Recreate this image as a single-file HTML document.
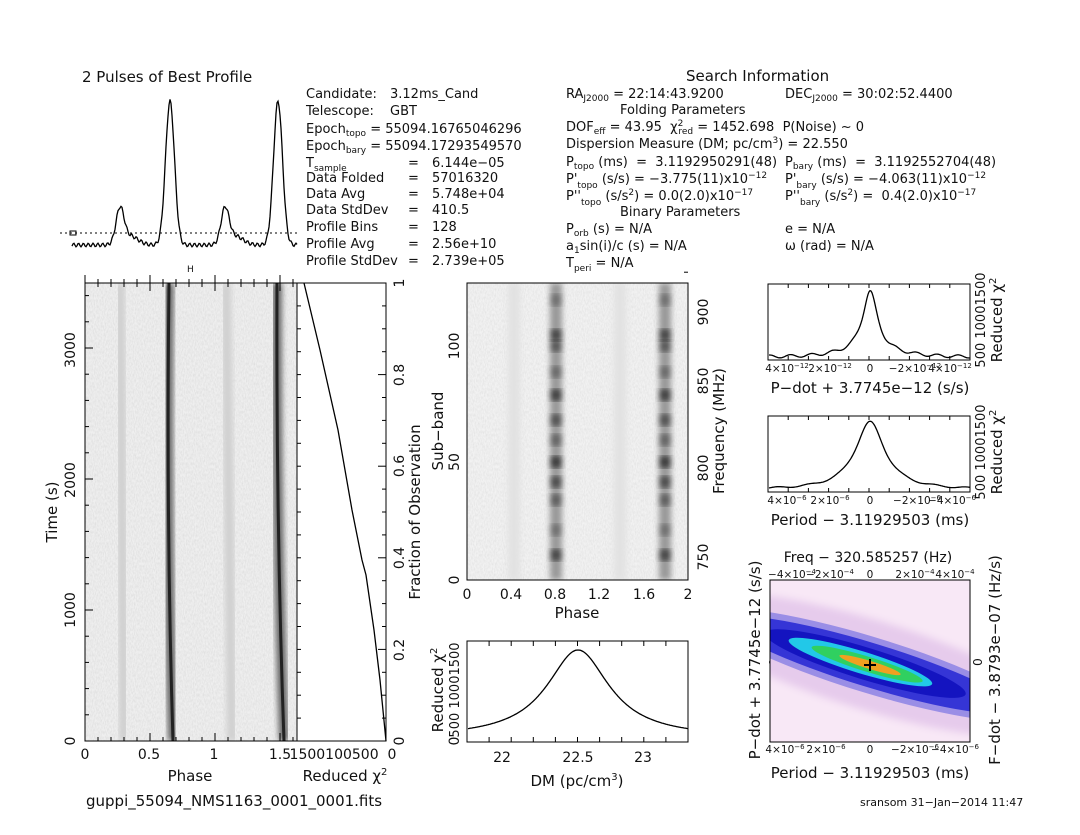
<!DOCTYPE html>
<html><head><meta charset="utf-8"><style>
html,body{margin:0;padding:0;background:#fff}
svg{display:block;font-family:"DejaVu Sans","Liberation Sans",sans-serif}
text{fill:#111;white-space:pre}
</style></head><body>
<svg id="s" width="1080" height="835" viewBox="0 0 1080 835" xmlns="http://www.w3.org/2000/svg" xml:space="preserve">
<defs>
<filter id="bl" x="-50%" y="-5%" width="200%" height="110%"><feGaussianBlur stdDeviation="3"/></filter>
<filter id="bl2" x="-20%" y="-20%" width="140%" height="140%"><feGaussianBlur stdDeviation="4"/></filter>
<filter id="noise"><feTurbulence type="fractalNoise" baseFrequency="0.9 0.35" numOctaves="2" seed="3"/><feColorMatrix type="matrix" values="0 0 0 0 0.5  0 0 0 0 0.5  0 0 0 0 0.5  0 0 0 -1.6 1.1"/></filter>
<clipPath id="c1"><rect x="85" y="283" width="212" height="458"/></clipPath>
<clipPath id="c2"><rect x="467" y="283" width="221" height="297"/></clipPath>
<clipPath id="c3"><rect x="770" y="580" width="200" height="162"/></clipPath>
</defs>
<g font-size="14">
<text x="82" y="82" font-size="15">2 Pulses of Best Profile</text>
<text x="686" y="81" font-size="15">Search Information</text>
<g font-size="13">
<text x="306" y="98">Candidate:</text><text x="390" y="98">3.12ms_Cand</text>
<text x="306" y="115">Telescope:</text><text x="390" y="115">GBT</text>
<text x="306" y="133">Epoch<tspan font-size="9" dy="3">topo</tspan><tspan dy="-3"> = 55094.16765046296</tspan></text>
<text x="306" y="150">Epoch<tspan font-size="9" dy="3">bary</tspan><tspan dy="-3"> = 55094.17293549570</tspan></text>
<text x="306" y="167">T<tspan font-size="9" dy="4">sample</tspan></text><text x="408" y="167">=</text><text x="432" y="167">6.144e−05</text>
<text x="306" y="182">Data Folded</text><text x="408" y="182">=</text><text x="432" y="182">57016320</text>
<text x="306" y="198">Data Avg</text><text x="408" y="198">=</text><text x="432" y="198">5.748e+04</text>
<text x="306" y="214">Data StdDev</text><text x="408" y="214">=</text><text x="432" y="214">410.5</text>
<text x="306" y="231">Profile Bins</text><text x="408" y="231">=</text><text x="432" y="231">128</text>
<text x="306" y="248">Profile Avg</text><text x="408" y="248">=</text><text x="432" y="248">2.56e+10</text>
<text x="306" y="265">Profile StdDev</text><text x="408" y="265">=</text><text x="432" y="265">2.739e+05</text>

<text x="566" y="98">RA<tspan font-size="9" dy="3">J2000</tspan><tspan dy="-3"> = 22:14:43.9200</tspan></text>
<text x="785" y="98">DEC<tspan font-size="9" dy="3">J2000</tspan><tspan dy="-3"> = 30:02:52.4400</tspan></text>
<text x="620" y="114">Folding Parameters</text>
<text x="566" y="131">DOF<tspan font-size="9" dy="3">eff</tspan><tspan dy="-3"> = 43.95  χ</tspan><tspan font-size="9" dy="-5">2</tspan><tspan font-size="9" dx="-5" dy="8">red</tspan><tspan dy="-3"> = 1452.698  P(Noise) ~ 0</tspan></text>
<text x="566" y="148">Dispersion Measure (DM; pc/cm<tspan font-size="9" dy="-5">3</tspan><tspan dy="5">) = 22.550</tspan></text>
<text x="566" y="166">P<tspan font-size="9" dy="3">topo</tspan><tspan dy="-3"> (ms)  =  3.1192950291(48)</tspan></text>
<text x="785" y="166">P<tspan font-size="9" dy="3">bary</tspan><tspan dy="-3"> (ms)  =  3.1192552704(48)</tspan></text>
<text x="566" y="183">P'<tspan font-size="9" dy="5">topo</tspan><tspan dy="-5"> (s/s) = −3.775(11)x10</tspan><tspan font-size="9" dy="-5">−12</tspan></text>
<text x="785" y="183">P'<tspan font-size="9" dy="5">bary</tspan><tspan dy="-5"> (s/s) = −4.063(11)x10</tspan><tspan font-size="9" dy="-5">−12</tspan></text>
<text x="566" y="200">P''<tspan font-size="9" dy="5">topo</tspan><tspan dy="-5"> (s/s</tspan><tspan font-size="9" dy="-5">2</tspan><tspan dy="5">) = 0.0(2.0)x10</tspan><tspan font-size="9" dy="-5">−17</tspan></text>
<text x="785" y="200">P''<tspan font-size="9" dy="5">bary</tspan><tspan dy="-5"> (s/s</tspan><tspan font-size="9" dy="-5">2</tspan><tspan dy="5">) =  0.4(2.0)x10</tspan><tspan font-size="9" dy="-5">−17</tspan></text>
<text x="620" y="216">Binary Parameters</text>
<text x="566" y="233">P<tspan font-size="9" dy="3">orb</tspan><tspan dy="-3"> (s) = N/A</tspan></text>
<text x="785" y="233">e = N/A</text>
<text x="566" y="250">a<tspan font-size="9" dy="3">1</tspan><tspan dy="-3">sin(i)/c (s) = N/A</tspan></text>
<text x="785" y="250">ω (rad) = N/A</text>
<text x="566" y="267">T<tspan font-size="9" dy="4">peri</tspan><tspan dy="-4"> = N/A</tspan></text>
</g>
</g>

<!-- profile -->
<line x1="60" y1="233" x2="297" y2="233" stroke="#000" stroke-dasharray="2,3" stroke-width="1"/>
<rect x="70" y="231" width="6" height="4" fill="none" stroke="#000" stroke-width="1"/>
<path id="prof" fill="none" stroke="#000" stroke-width="1.3"/>
<text x="187" y="272" font-size="9">H</text>

<!-- time-phase -->
<g clip-path="url(#c1)">
<rect x="85" y="283" width="212" height="458" fill="#efefef"/>
<rect x="85" y="283" width="212" height="458" filter="url(#noise)" opacity="0.35"/>
<path d="M120,283 Q121,510 124,741" stroke="#d0d0d0" stroke-width="10" fill="none" filter="url(#bl)"/>
<path d="M226,283 Q228,510 232,741" stroke="#d0d0d0" stroke-width="10" fill="none" filter="url(#bl)"/>
<path d="M169,283 Q166,520 173,741" stroke="#666" stroke-width="10" fill="none" filter="url(#bl)"/>
<path d="M169,283 Q166,520 173,741" stroke="#222" stroke-width="3" fill="none"/>
<path d="M277,283 Q276,520 284,741" stroke="#666" stroke-width="10" fill="none" filter="url(#bl)"/>
<path d="M277,283 Q276,520 284,741" stroke="#222" stroke-width="3" fill="none"/>
</g>
<rect x="85" y="283" width="212" height="458" fill="none" stroke="#000"/>
<rect x="297" y="283" width="89" height="458" fill="none" stroke="#000"/>
<path id="fr" fill="none" stroke="#000" stroke-width="1.3"/>
<g id="ticks" stroke="#000" stroke-width="1"></g>
<g font-size="14">
<text x="85" y="759" text-anchor="middle">0</text>
<text x="149" y="759" text-anchor="middle">0.5</text>
<text x="214" y="759" text-anchor="middle">1</text>
<text x="280" y="759" text-anchor="middle">1.5</text>
<text x="343" y="759" text-anchor="middle">1500100500  0</text>
<text x="190" y="781" text-anchor="middle" font-size="15">Phase</text>
<text x="345" y="781" text-anchor="middle" font-size="15">Reduced χ<tspan font-size="10" dy="-6">2</tspan></text>
<text x="86" y="806" font-size="15">guppi_55094_NMS1163_0001_0001.fits</text>
<g transform="rotate(-90)" text-anchor="middle">
<text x="-741" y="75">0</text><text x="-610" y="75">1000</text><text x="-480" y="75">2000</text><text x="-350" y="75">3000</text>
<text x="-512" y="57" font-size="15">Time (s)</text>
<text x="-741" y="404">0</text><text x="-650" y="404">0.2</text><text x="-558" y="404">0.4</text><text x="-466" y="404">0.6</text><text x="-375" y="404">0.8</text><text x="-283" y="404">1</text>
<text x="-512" y="420" font-size="15">Fraction of Observation</text>
<text x="-580" y="459">0</text><text x="-462" y="459">50</text><text x="-346" y="459">100</text>
<text x="-431" y="443" font-size="15">Sub−band</text>
<text x="-557" y="708">750</text><text x="-468" y="708">800</text><text x="-381" y="708">850</text><text x="-312" y="708">900</text>
<text x="-431" y="724" font-size="15">Frequency (MHz)</text>
<text x="-690" y="459" font-size="13">500 10001500</text>
<text x="-741" y="459">0</text>
<text x="-690" y="443" font-size="15">Reduced χ<tspan font-size="10" dy="-6">2</tspan></text>
<text x="-320" y="985" font-size="13">500 10001500</text>
<text x="-320" y="1002" font-size="15">Reduced χ<tspan font-size="10" dy="-6">2</tspan></text>
<text x="-452" y="985" font-size="13">500 10001500</text>
<text x="-452" y="1002" font-size="15">Reduced χ<tspan font-size="10" dy="-6">2</tspan></text>
<text x="-660" y="760" font-size="15">P−dot + 3.7745e−12 (s/s)</text>
<text x="-660" y="1000" font-size="15">F−dot − 3.8793e−07 (Hz/s)</text>
<text x="-662" y="982" font-size="12">0</text>
<text x="-662" y="778" font-size="12">0</text>
</g>
</g>

<!-- subband -->
<g clip-path="url(#c2)">
<rect x="467" y="283" width="221" height="297" fill="#f2f2f2"/>
<rect x="467" y="283" width="221" height="297" filter="url(#noise)" opacity="0.3"/>
<rect x="508" y="283" width="12" height="297" fill="#e2e2e2" filter="url(#bl)"/>
<rect x="614" y="283" width="12" height="297" fill="#e2e2e2" filter="url(#bl)"/>
<rect x="550" y="283" width="12" height="297" fill="#999" filter="url(#bl)"/>
<rect x="659" y="283" width="12" height="297" fill="#999" filter="url(#bl)"/>
<g id="blobs"></g>
</g>
<rect x="467" y="283" width="221" height="297" fill="none" stroke="#000"/>
<g font-size="14" text-anchor="middle">
<text x="467" y="599">0</text><text x="511" y="599">0.4</text><text x="555" y="599">0.8</text><text x="599" y="599">1.2</text><text x="644" y="599">1.6</text><text x="688" y="599">2</text>
<text x="577" y="618" font-size="15">Phase</text>
</g>

<!-- DM -->
<rect x="467" y="641" width="221" height="101" fill="none" stroke="#000"/>
<path id="dm" fill="none" stroke="#000" stroke-width="1.3"/>
<g font-size="14" text-anchor="middle">
<text x="502" y="762">22</text><text x="578" y="762">22.5</text><text x="643" y="762">23</text>
<text x="577" y="786" font-size="15">DM (pc/cm<tspan font-size="10" dy="-6">3</tspan><tspan dy="6">)</tspan></text>
</g>

<!-- top right -->
<rect x="768" y="284" width="202" height="76" fill="none" stroke="#000"/>
<path id="pd" fill="none" stroke="#000" stroke-width="1.3"/>
<g font-size="10.5" text-anchor="middle">
<text x="787" y="372">4×10<tspan font-size="7" dy="-4">−12</tspan></text><text x="830" y="372">2×10<tspan font-size="7" dy="-4">−12</tspan></text><text x="870" y="372">0</text><text x="915" y="372">−2×10<tspan font-size="7" dy="-4">−12</tspan></text><text x="950" y="372">4×10<tspan font-size="7" dy="-4">−12</tspan></text>
<text x="787" y="504">4×10<tspan font-size="7" dy="-4">−6</tspan></text><text x="830" y="504">2×10<tspan font-size="7" dy="-4">−6</tspan></text><text x="870" y="504">0</text><text x="917" y="504">−2×10<tspan font-size="7" dy="-4">−6</tspan></text><text x="952" y="504">−4×10<tspan font-size="7" dy="-4">−6</tspan></text>
</g>
<text x="870" y="393" font-size="15" text-anchor="middle">P−dot + 3.7745e−12 (s/s)</text>
<rect x="768" y="416" width="202" height="76" fill="none" stroke="#000"/>
<path id="pp" fill="none" stroke="#000" stroke-width="1.3"/>
<text x="870" y="525" font-size="15" text-anchor="middle">Period − 3.11929503 (ms)</text>

<!-- 2D -->
<text x="868" y="562" font-size="14" text-anchor="middle">Freq − 320.585257 (Hz)</text>
<g font-size="10.5" text-anchor="middle">
<text x="792" y="578">−4×10<tspan font-size="7" dy="-4">−4</tspan></text><text x="830" y="578">−2×10<tspan font-size="7" dy="-4">−4</tspan></text><text x="870" y="578">0</text><text x="915" y="578">2×10<tspan font-size="7" dy="-4">−4</tspan></text><text x="955" y="578">4×10<tspan font-size="7" dy="-4">−4</tspan></text>
<text x="785" y="753">4×10<tspan font-size="7" dy="-4">−6</tspan></text><text x="826" y="753">2×10<tspan font-size="7" dy="-4">−6</tspan></text><text x="870" y="753">0</text><text x="915" y="753">−2×10<tspan font-size="7" dy="-4">−6</tspan></text><text x="955" y="753">−4×10<tspan font-size="7" dy="-4">−6</tspan></text>
</g>
<g clip-path="url(#c3)">
<rect x="770" y="580" width="200" height="162" fill="#f8e8f6"/>
<g transform="translate(870,665) rotate(17)">
<ellipse cx="0" cy="0" rx="200" ry="45" fill="#e6cbec" filter="url(#bl2)"/>
<ellipse cx="0" cy="0" rx="170" ry="28" fill="#9a8ee6"/>
<ellipse cx="0" cy="0" rx="150" ry="22" fill="#3535d6"/>
<ellipse cx="-5" cy="0" rx="105" ry="16" fill="#1414c0"/>
<ellipse cx="-10" cy="0" rx="75" ry="11" fill="#22c8e8"/>
<ellipse cx="-3" cy="0" rx="58" ry="7.5" fill="#30d060"/>
<ellipse cx="0" cy="0" rx="32" ry="4" fill="#f0a020"/>
</g>
</g>
<rect x="770" y="580" width="200" height="162" fill="none" stroke="#000"/>
<path d="M864,665h12M870,659v12" stroke="#000" stroke-width="2"/>
<text x="870" y="778" font-size="15" text-anchor="middle">Period − 3.11929503 (ms)</text>
<text x="860" y="806" font-size="11" fill="#333">sransom 31−Jan−2014 11:47</text>
</svg>
<script>
function P(id,d){document.getElementById(id).setAttribute('d',d);}
function g(x,c,w){return Math.exp(-((x-c)*(x-c))/(2*w*w));}
var d='';for(var x=72;x<=297;x++){var v=0.96*g(x,170,4.5)+0.96*g(x,278,4.5)+0.23*g(x,120,4)+0.23*g(x,225,4)+0.06*g(x,130,8)+0.06*g(x,235,8)+0.012*Math.sin(x*1.3);var y=245-v*150;d+=(x==72?'M':'L')+x+','+y.toFixed(1);}P('prof',d);
d='M304,283 L320,350 L338,430 L352,510 L362,560 L366,575 L374,630 L380,680 L386,741';P('fr',d);
d='';for(var x=468;x<=688;x++){var t=(x-578)/38;var y=738-88/(1+t*t);d+=(x==468?'M':'L')+x+','+y.toFixed(1);}P('dm',d);
d='';for(var x=769;x<=970;x++){var t=(x-870)/9;var y=357-62/(1+t*t)-4*g(x,870,30)+1.5*Math.sin(x*0.3);d+=(x==769?'M':'L')+x+','+y.toFixed(1);}P('pd',d);
d='';for(var x=769;x<=970;x++){var t=(x-870)/18;var y=490-68/(1+t*t)+0.8*Math.sin(x*0.2);d+=(x==769?'M':'L')+x+','+y.toFixed(1);}P('pp',d);
var b='';var ys=[300,335,346,372,395,420,440,462,482,500,530,555];for(var i=0;i<ys.length;i++){var o=(0.35+0.5*((i*37)%10)/10).toFixed(2);b+='<rect x="551" y="'+(ys[i]-6)+'" width="10" height="12" fill="#222" opacity="'+o+'" filter="url(#bl)"/><rect x="660" y="'+(ys[i]-6)+'" width="10" height="12" fill="#222" opacity="'+o+'" filter="url(#bl)"/>';}
document.getElementById('blobs').innerHTML=b;
var t='';
function L(a,b,c,e){t+='<line x1="'+a+'" y1="'+b+'" x2="'+c+'" y2="'+e+'"/>';}
for(var i=0;i<=16;i++){var x=85+i*13;var h=(i%5==0)?8:4;L(x,283,x,283+h);L(x,741,x,741-h);L(x,283,x,283-h);}
for(var v=0;v<=3500;v+=200){var y=741-v*0.131;var h=(v%1000==0)?8:4;L(85,y,85+h,y);}
for(var i=0;i<=20;i++){var y=741-i*22.9;var h=(i%4==0)?8:4;L(386,y,386-h,y);L(297,y,297+4,y);}
for(var i=0;i<=10;i++){var x=467+i*22.1;L(x,580,x,575);L(x,283,x,288);L(x,742,x,737);L(x,641,x,646);}
for(var v=0;v<=125;v+=10){var y=580-v*2.34;L(467,y,(v%50==0)?475:471,y);}
for(var v=740;v<=910;v+=10){var y=557-(v-750)*1.78;L(688,y,(v%50==0)?680:684,y);}
for(var i=0;i<=10;i++){var x=768+i*20.2;L(x,360,x,356);L(x,284,x,288);L(x,492,x,488);L(x,416,x,420);L(770+i*20,742,770+i*20,737);L(770+i*20,580,770+i*20,585);}
for(var i=0;i<=8;i++){L(770,580+i*20,775,580+i*20);L(970,580+i*20,965,580+i*20);}
document.getElementById('ticks').innerHTML=t;
</script>
</body></html>
